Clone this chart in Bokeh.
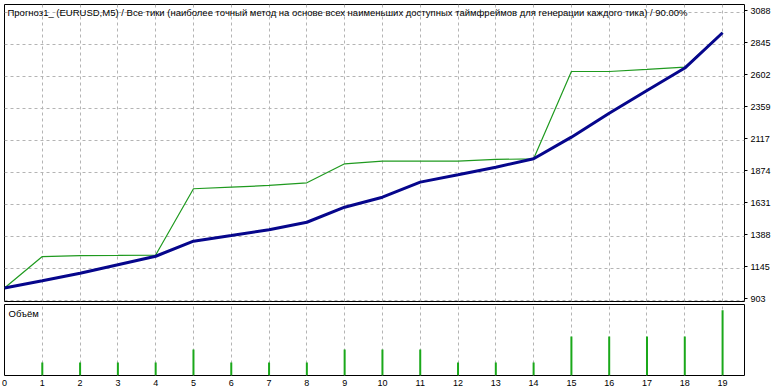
from bokeh.plotting import figure
from bokeh.layouts import column
from bokeh.models import Range1d, LinearAxis, FixedTicker, Label
from bokeh.embed import file_html
from bokeh.resources import INLINE

# ---- data ----
trades = list(range(20))
balance = [1000, 1055, 1112, 1176, 1241, 1355, 1398, 1442, 1499, 1613,
           1689, 1803, 1859, 1916, 1980, 2144, 2326, 2498, 2668, 2936]
equity = [1000, 1239, 1246, 1247, 1250, 1753, 1765, 1778, 1798, 1942,
          1962, 1962, 1962, 1975, 1980, 2642, 2642, 2658, 2675, 2936]
volume = [0, 1, 1, 1, 1, 2, 1, 1, 1, 2,
          2, 2, 1, 1, 1, 3, 3, 3, 3, 5]
y_ticks = [903, 1145, 1388, 1631, 1874, 2117, 2359, 2602, 2845, 3088]
x_ticks = list(range(20))
title_text = ("Прогноз1_ (EURUSD,M5) / Все тики (наиболее точный метод на основе всех "
              "наименьших доступных таймфреймов для генерации каждого тика) / 90.00%")
vol_label = "Объём"

FONT = "Liberation Sans"
GRID_COLOR = "#b4b4b4"
BLUE = "#06068c"
GREEN = "#1f9a1f"

Y0, Y1 = 898, 3150
LBL_SHIFT = 2.0 * (Y1 - Y0) / 297.0   # labels drawn ~2px above their grid line

xr = Range1d(0, 19.58)

# ---- main panel ----
p1 = figure(width=782, height=304, x_range=xr, y_range=Range1d(Y0, Y1),
            toolbar_location=None, output_backend="svg",
            x_axis_location=None, y_axis_location=None,
            min_border_left=4, min_border_right=38, min_border_top=4, min_border_bottom=3)
p1.outline_line_color = "black"
p1.outline_line_width = 1
p1.outline_line_alpha = 1.0
p1.extra_y_ranges = {"lab": Range1d(Y0 - LBL_SHIFT, Y1 - LBL_SHIFT)}

yax = LinearAxis(ticker=FixedTicker(ticks=y_ticks), y_range_name="lab")
yax.axis_line_color = None
yax.major_tick_in = 0
yax.major_tick_out = 3
yax.major_tick_line_color = "black"
yax.minor_tick_line_color = None
yax.major_label_standoff = 3
yax.major_label_text_font = FONT
yax.major_label_text_font_size = "9px"
yax.major_label_text_color = "black"
p1.add_layout(yax, "right")

p1.xgrid.ticker = FixedTicker(ticks=x_ticks[1:])
p1.ygrid.ticker = FixedTicker(ticks=y_ticks)
for g in (p1.xgrid, p1.ygrid):
    g.grid_line_color = GRID_COLOR
    g.grid_line_dash = "3 3"
    g.grid_line_width = 1

p1.line(trades, equity, line_color=GREEN, line_width=1.2)
p1.line(trades, balance, line_color=BLUE, line_width=3)

p1.add_layout(Label(x=3, y=289, x_units="screen", y_units="screen", text=title_text,
                    text_font=FONT, text_font_size="9.5px", text_baseline="middle",
                    text_color="black"))

# ---- volume panel ----
p2 = figure(width=782, height=88, x_range=xr, y_range=Range1d(0, 5.45),
            toolbar_location=None, output_backend="svg",
            x_axis_location=None, y_axis_location=None,
            min_border_left=4, min_border_right=38, min_border_top=0, min_border_bottom=17)
p2.outline_line_color = "black"
p2.outline_line_width = 1
p2.outline_line_alpha = 1.0

xax = LinearAxis(ticker=FixedTicker(ticks=x_ticks))
xax.axis_line_color = None
xax.major_tick_in = 0
xax.major_tick_out = 0
xax.minor_tick_line_color = None
xax.major_label_standoff = 4
xax.major_label_text_font = FONT
xax.major_label_text_font_size = "9px"
xax.major_label_text_color = "black"
p2.add_layout(xax, "below")

p2.xgrid.ticker = FixedTicker(ticks=x_ticks[1:])
p2.xgrid.grid_line_color = GRID_COLOR
p2.xgrid.grid_line_dash = "3 3"
p2.ygrid.visible = False

p2.segment(x0=trades, y0=[0] * len(trades), x1=trades, y1=volume,
           line_color="#1aa81a", line_width=2)

p2.add_layout(Label(x=4, y=62, x_units="screen", y_units="screen", text=vol_label,
                    text_font=FONT, text_font_size="9.5px", text_baseline="middle",
                    text_color="black"))

layout = column(p1, p2, spacing=0)
open("out.html", "w").write(file_html(layout, INLINE))
